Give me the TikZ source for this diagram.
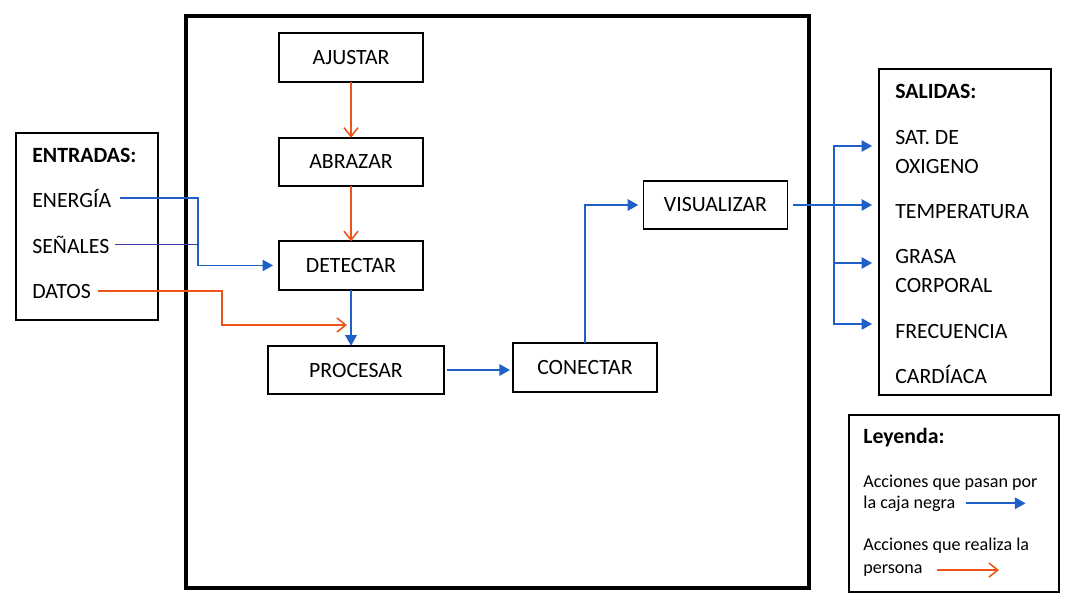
\documentclass[tikz,border=0pt]{standalone}
\usepackage{fontspec}
\setmainfont{Carlito}
\usetikzlibrary{positioning,arrows.meta}
\definecolor{flujoAzul}{RGB}{30,96,200}
\definecolor{senalAzul}{RGB}{62,62,168}
\definecolor{accNaranja}{RGB}{238,84,24}
\newcommand{\txtnormal}{\fontsize{12.4}{15}\selectfont}
\newcommand{\txtley}{\fontsize{10.3}{12.5}\selectfont}

\begin{document}
\begin{tikzpicture}[
    x=0.02cm, y=-0.02cm,
    paso/.style={draw, line width=1.1pt, minimum width=2.88cm, minimum height=0.97cm, font=\txtnormal, inner sep=0pt, outer sep=0pt},
    marcobox/.style={draw, line width=2.3pt, inner sep=0pt},
    lista/.style={draw, line width=1.1pt, inner sep=0pt},
    lbl/.style={anchor=base west, inner sep=0pt, font=\txtnormal},
    ley/.style={anchor=base west, inner sep=0pt, font=\txtley},
    azul/.style={flujoAzul, line width=0.9pt, -{Triangle[length=6pt,width=6.5pt]}},
    naranja/.style={accNaranja, line width=0.9pt, -{Straight Barb[length=5pt,width=8pt]}},
]
\useasboundingbox (0,0) rectangle (1076,606);

% Black box
\node[marcobox, minimum width=12.46cm, minimum height=11.44cm] (caja) at (497.5,302) {};

% Steps inside the box
\node[paso] (ajustar) at (351,57.5) {AJUSTAR};
\node[paso, below=1.12cm of ajustar] (abrazar) {ABRAZAR};
\node[paso, below=1.1cm of abrazar] (detectar) {DETECTAR};
\node[paso, minimum width=3.52cm] (procesar) at (356,370) {PROCESAR};
\node[paso, right=1.38cm of procesar, yshift=0.05cm] (conectar) {CONECTAR};
\node[paso] (visualizar) at (715.5,205) {VISUALIZAR};

% Inputs
\node[lista, minimum width=2.84cm, minimum height=3.74cm] (entradas) at (87,226.5) {};
\node[lbl, font=\txtnormal\bfseries] (entTit) at (32,162) {ENTRADAS:};
\node[lbl] (energia) at (32,207) {ENERGÍA};
\node[lbl] (senales) at (32,253) {SEÑALES};
\node[lbl] (datos) at (32,298) {DATOS};

% Outputs
\node[lista, minimum width=3.44cm, minimum height=6.52cm] (salidas) at (965,232) {};
\node[lbl, font=\txtnormal\bfseries] (salTit) at (895,98) {SALIDAS:};
\node[lbl] (sat) at (895,144) {SAT. DE};
\node[lbl] (oxi) at (895,173) {OXIGENO};
\node[lbl] (temp) at (895,218) {TEMPERATURA};
\node[lbl] (grasa) at (895,263) {GRASA};
\node[lbl] (corp) at (895,292) {CORPORAL};
\node[lbl] (frec) at (895,338) {FRECUENCIA};
\node[lbl] (card) at (895,383) {CARDÍACA};

% Legend
\node[lista, minimum width=4.2cm, minimum height=3.54cm] (leyenda) at (954,503.5) {};
\node[ley, font=\txtnormal\bfseries] (leyTit) at (863,443) {Leyenda:};
\node[ley] (pasan) at (863,487) {Acciones que pasan por};
\node[ley] (negra) at (863,508) {la caja negra};
\node[ley] (realiza) at (863,550) {Acciones que realiza la};
\node[ley] (persona) at (863,573) {persona};

% Arrows - inputs
\coordinate (datosFin) at (347,325);
\draw[azul, shorten <=5pt, shorten >=3.4pt] (energia.east) -| (detectar.west -| 198,0) -- (detectar.west);
\draw[senalAzul, line width=0.9pt, shorten <=3pt] (senales.east) -- (senales.east -| 198,0);
\draw[naranja, shorten <=4pt] (datos.east) -| (datosFin -| 222,0) -- (datosFin);

% Arrows - steps
\draw[naranja] (ajustar.south) -- (abrazar.north);
\draw[naranja] (abrazar.south) -- (detectar.north);
\draw[azul] (detectar.south) -- (detectar.south |- procesar.north);
\draw[azul, shorten <=2pt, shorten >=1.7pt] (procesar.east) -- (procesar.east -| conectar.west);
\draw[azul, shorten >=3pt] (conectar.north) |- (visualizar.west);

% Arrows - outputs
\coordinate (rama) at (834,205);
\draw[flujoAzul, line width=0.9pt, shorten <=3.4pt] (visualizar.east) -- (rama);
\foreach \yy in {146,205,263,324}
  \draw[azul, shorten >=3.4pt] (rama) |- (salidas.west |- 0,\yy);

% Legend samples
\draw[azul] (negra.east) ++(10,0) -- ++(60,0);
\draw[naranja] (persona.east) ++(14,0) -- ++(62,0);
\end{tikzpicture}
\end{document}
